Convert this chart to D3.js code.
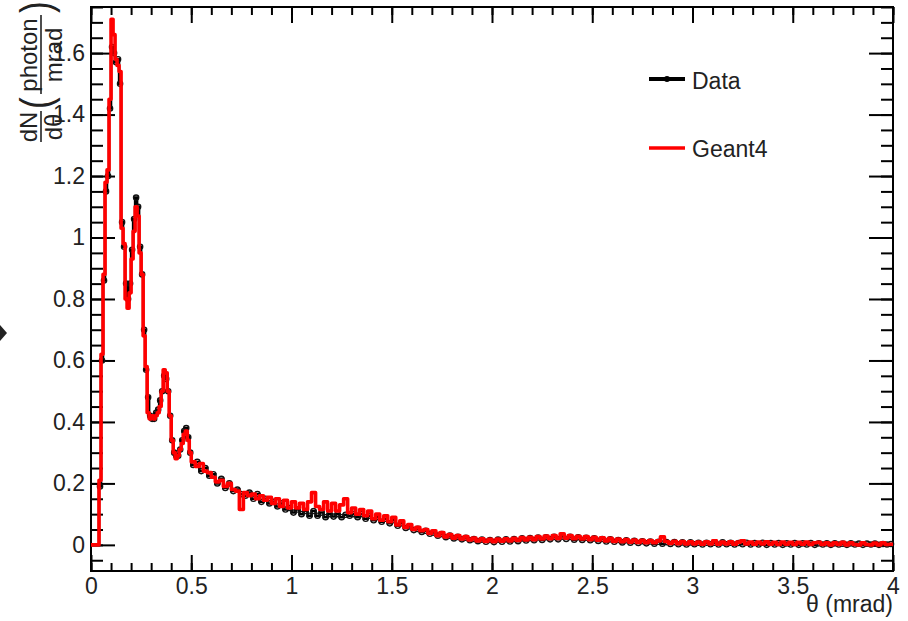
<!DOCTYPE html>
<html>
<head>
<meta charset="utf-8">
<script src="https://cdn.jsdelivr.net/npm/d3@7"></script>
<style>
  html, body { margin: 0; padding: 0; background: #fff; }
  svg { display: block; font-family: "Liberation Sans", Arial, sans-serif; }
</style>
</head>
<body>
<svg id="chart" width="908" height="621"></svg>
<script>
// histogram binning: 0.01 mrad up to 0.5, then 0.02 mrad up to 4
const FINE_WIDTH = 0.01;
const COARSE_START = 0.5;
const COARSE_WIDTH = 0.02;

const geant4Fine = [
  0, 0, 0, 0, 0.21, 0.62, 0.88, 1.18, 1.22, 1.45,
  1.71, 1.66, 1.58, 1.56, 1.54, 1.03, 0.98, 0.80, 0.77, 0.82,
  0.93, 1.02, 1.10, 1.07, 0.95, 0.88, 0.68, 0.58, 0.43, 0.41,
  0.42, 0.41, 0.42, 0.43, 0.45, 0.50, 0.57, 0.56, 0.50, 0.42,
  0.34, 0.30, 0.28, 0.29, 0.31, 0.33, 0.36, 0.37, 0.34, 0.30
];
const geant4Coarse = [
  0.27, 0.255, 0.265, 0.24, 0.235, 0.22, 0.205, 0.21, 0.19, 0.20,
  0.18, 0.175, 0.115, 0.17, 0.16, 0.165, 0.15, 0.16, 0.145, 0.155,
  0.135, 0.15, 0.125, 0.145, 0.12, 0.14, 0.12, 0.135, 0.115, 0.14,
  0.17, 0.125, 0.115, 0.14, 0.11, 0.135, 0.11, 0.13, 0.15, 0.105,
  0.12, 0.10, 0.115, 0.095, 0.11, 0.085, 0.10, 0.08, 0.095, 0.075,
  0.09, 0.065, 0.078, 0.057, 0.066, 0.05, 0.057, 0.046, 0.05, 0.037,
  0.046, 0.03, 0.04, 0.026, 0.034, 0.022, 0.03, 0.019, 0.027, 0.016,
  0.022, 0.013, 0.02, 0.011, 0.018, 0.01, 0.019, 0.012, 0.02, 0.013,
  0.021, 0.014, 0.024, 0.016, 0.025, 0.017, 0.027, 0.019, 0.029, 0.02,
  0.03, 0.021, 0.036, 0.022, 0.03, 0.02, 0.028, 0.019, 0.027, 0.017,
  0.025, 0.015, 0.023, 0.013, 0.021, 0.011, 0.019, 0.01, 0.017, 0.009,
  0.016, 0.008, 0.015, 0.007, 0.014, 0.007, 0.013, 0.026, 0.011, 0.005,
  0.012, 0.004, 0.011, 0.003, 0.01, 0.003, 0.009, 0.002, 0.01, 0.003,
  0.013, 0.002, 0.009, 0.003, 0.01, 0.002, 0.009, 0.013, 0.003, 0.009,
  0.002, 0.009, 0.003, 0.01, 0.002, 0.008, 0.001, 0.009, 0.002, 0.008,
  0.001, 0.008, 0.002, 0.009, 0.001, 0.007, 0.008, 0.001, 0.007, 0.0,
  0.007, 0.001, 0.008, 0.0, 0.007, 0.001, 0.0, 0.007, 0.001, 0.0,
  0.006, 0.0, 0.007, 0.001, 0.002
];

const dataFine = [
  0, 0, 0, 0, 0.19, 0.60, 0.86, 1.15, 1.20, 1.42,
  1.62, 1.60, 1.57, 1.58, 1.50, 1.05, 0.97, 0.85, 0.80, 0.85,
  0.96, 1.06, 1.13, 1.10, 0.97, 0.88, 0.70, 0.57, 0.48, 0.42,
  0.41, 0.41, 0.43, 0.44, 0.47, 0.50, 0.55, 0.54, 0.50, 0.42,
  0.34, 0.30, 0.29, 0.29, 0.31, 0.34, 0.37, 0.38, 0.35, 0.30
];
const dataCoarse = [
  0.26, 0.27, 0.24, 0.25, 0.225, 0.23, 0.20, 0.215, 0.185, 0.20,
  0.175, 0.18, 0.165, 0.16, 0.17, 0.15, 0.165, 0.14, 0.15, 0.135,
  0.14, 0.125, 0.135, 0.115, 0.12, 0.105, 0.115, 0.10, 0.11, 0.095,
  0.11, 0.095, 0.105, 0.09, 0.10, 0.092, 0.10, 0.09, 0.098, 0.095,
  0.10, 0.09, 0.10, 0.085, 0.095, 0.08, 0.09, 0.075, 0.085, 0.07,
  0.08, 0.062, 0.07, 0.055, 0.06, 0.048, 0.052, 0.042, 0.046, 0.036,
  0.04, 0.03, 0.035, 0.025, 0.03, 0.021, 0.026, 0.018, 0.023, 0.015,
  0.019, 0.012, 0.017, 0.01, 0.016, 0.009, 0.017, 0.01, 0.018, 0.011,
  0.019, 0.012, 0.021, 0.014, 0.022, 0.015, 0.024, 0.016, 0.025, 0.018,
  0.026, 0.018, 0.027, 0.019, 0.026, 0.017, 0.025, 0.016, 0.023, 0.015,
  0.021, 0.013, 0.019, 0.011, 0.018, 0.01, 0.016, 0.008, 0.015, 0.007,
  0.013, 0.006, 0.012, 0.005, 0.011, 0.004, 0.01, 0.004, 0.009, 0.003,
  0.009, 0.002, 0.008, 0.001, 0.008, 0.002, 0.007, 0.001, 0.007, 0.002,
  0.007, 0.001, 0.008, 0.002, 0.007, 0.001, 0.006, 0.002, 0.007, 0.001,
  0.006, 0.001, 0.007, 0.0, 0.006, 0.001, 0.006, 0.0, 0.005, 0.001,
  0.006, 0.0, 0.005, 0.001, 0.006, 0.0, 0.005, 0.001, 0.005, 0.0,
  0.005, 0.001, 0.004, 0.0, 0.005, 0.001, 0.004, 0.0, 0.004, 0.001,
  0.004, 0.0, 0.003, 0.001, 0.003
];

const xTicks = [0, 0.5, 1, 1.5, 2, 2.5, 3, 3.5, 4];
const yTicks = [0, 0.2, 0.4, 0.6, 0.8, 1, 1.2, 1.4, 1.6];
const legendLabels = ["Data", "Geant4"];
const xTitle = "θ (mrad)";

const svg = d3.select("#chart");
const x = d3.scaleLinear().domain([0, 4]).range([91, 893]);
const y = d3.scaleLinear().domain([-0.085, 1.75]).range([571, 7]);

function toBins(fine, coarse) {
  const bins = fine.map((v, i) => ({ x0: i * FINE_WIDTH, x1: (i + 1) * FINE_WIDTH, v }));
  coarse.forEach((v, i) => {
    bins.push({ x0: COARSE_START + i * COARSE_WIDTH, x1: COARSE_START + (i + 1) * COARSE_WIDTH, v });
  });
  return bins;
}

const geant4Bins = toBins(geant4Fine, geant4Coarse);
const dataBins = toBins(dataFine, dataCoarse);

function styleAxis(g) {
  g.select(".domain").remove();
  g.selectAll(".tick line").attr("stroke", "#000").attr("stroke-width", 2);
  g.selectAll(".tick text").attr("fill", "#222").style("font-size", "23px");
}

const fmt = d3.format("~g");
const xMinor = d3.range(0, 4.0001, 0.1);
const yMinor = d3.range(-0.05, 1.7501, 0.05);

// bottom / top
svg.append("g").attr("transform", "translate(0,571)")
  .call(d3.axisBottom(x).tickValues(xMinor).tickSize(-8).tickFormat(""))
  .call(styleAxis);
svg.append("g").attr("transform", "translate(0,571)")
  .call(d3.axisBottom(x).tickValues(xTicks).tickSize(-16).tickPadding(7).tickFormat(fmt))
  .call(styleAxis);
svg.append("g").attr("transform", "translate(0,7)")
  .call(d3.axisTop(x).tickValues(xMinor).tickSize(-8).tickFormat(""))
  .call(styleAxis);
svg.append("g").attr("transform", "translate(0,7)")
  .call(d3.axisTop(x).tickValues(xTicks).tickSize(-16).tickFormat(""))
  .call(styleAxis);

// left / right
svg.append("g").attr("transform", "translate(91,0)")
  .call(d3.axisLeft(y).tickValues(yMinor).tickSize(-12).tickFormat(""))
  .call(styleAxis);
svg.append("g").attr("transform", "translate(91,0)")
  .call(d3.axisLeft(y).tickValues(yTicks).tickSize(-24).tickPadding(6).tickFormat(fmt))
  .call(styleAxis);
svg.append("g").attr("transform", "translate(893,0)")
  .call(d3.axisRight(y).tickValues(yMinor).tickSize(-12).tickFormat(""))
  .call(styleAxis);
svg.append("g").attr("transform", "translate(893,0)")
  .call(d3.axisRight(y).tickValues(yTicks).tickSize(-24).tickFormat(""))
  .call(styleAxis);

svg.append("rect")
  .attr("x", x(0)).attr("y", y(1.75))
  .attr("width", x(4) - x(0)).attr("height", y(-0.085) - y(1.75))
  .attr("fill", "none").attr("stroke", "#000").attr("stroke-width", 2);

// step path through bin edges
const stepLine = d3.line().x(d => x(d[0])).y(d => y(d[1]));
const stepPoints = bins => bins.flatMap(b => [[b.x0, b.v], [b.x1, b.v]]);

// data: line + open markers
svg.append("path")
  .datum(stepPoints(dataBins))
  .attr("d", stepLine)
  .attr("fill", "none").attr("stroke", "#000").attr("stroke-width", 2.5);

svg.append("g").selectAll("circle")
  .data(dataBins.filter(b => b.x0 > 0.035))
  .join("circle")
  .attr("cx", b => x((b.x0 + b.x1) / 2))
  .attr("cy", b => y(b.v))
  .attr("r", 2.6)
  .attr("fill", "none").attr("stroke", "#111").attr("stroke-width", 1.4);

// geant4
svg.append("path")
  .datum(stepPoints(geant4Bins))
  .attr("d", stepLine)
  .attr("fill", "none").attr("stroke", "#ff0000").attr("stroke-width", 3.6)
  .attr("stroke-linejoin", "round");

// x title
svg.append("text")
  .attr("x", 893).attr("y", 612)
  .attr("text-anchor", "end")
  .attr("fill", "#222").style("font-size", "23px")
  .text(xTitle);

// y title: dN/dθ (photon/mrad), rotated
const yt = svg.append("g").attr("transform", "translate(41,0) rotate(-90)")
  .attr("fill", "#222").style("font-size", "24px");
yt.append("text").attr("x", -127).attr("y", -4).attr("text-anchor", "middle").text("dN");
yt.append("text").attr("x", -127).attr("y", 21).attr("text-anchor", "middle").text("dθ");
yt.append("line").attr("x1", -142).attr("x2", -111).attr("y1", 0).attr("y2", 0)
  .attr("stroke", "#222").attr("stroke-width", 1.6);
yt.append("text").attr("x", -109).attr("y", 10).attr("transform", "translate(-109,10) scale(0.8,1) translate(109,-10)")
  .style("font-size", "44px").text("(");
yt.append("text").attr("x", -55).attr("y", -4).attr("text-anchor", "middle").text("photon");
yt.append("text").attr("x", -55).attr("y", 21).attr("text-anchor", "middle").text("mrad");
yt.append("line").attr("x1", -94).attr("x2", -15).attr("y1", 0).attr("y2", 0)
  .attr("stroke", "#222").attr("stroke-width", 1.6);
yt.append("text").attr("x", -13).attr("y", 10).attr("transform", "translate(-13,10) scale(0.8,1) translate(13,-10)")
  .style("font-size", "44px").text(")");

// legend
const legend = svg.append("g");
legend.append("line").attr("x1", 649).attr("x2", 685).attr("y1", 79).attr("y2", 79)
  .attr("stroke", "#000").attr("stroke-width", 4);
legend.append("circle").attr("cx", 667).attr("cy", 79).attr("r", 3).attr("fill", "#000");
legend.append("line").attr("x1", 649).attr("x2", 685).attr("y1", 148).attr("y2", 148)
  .attr("stroke", "#ff0000").attr("stroke-width", 3.6);
legend.selectAll("text")
  .data(legendLabels)
  .join("text")
  .attr("x", 692)
  .attr("y", (d, i) => i === 0 ? 89 : 157)
  .attr("fill", "#222").style("font-size", "23px")
  .text(d => d);

// small marker at the left edge of the screenshot
svg.append("path").attr("d", "M0,325L7,333L0,341Z").attr("fill", "#222");
</script>
</body>
</html>
